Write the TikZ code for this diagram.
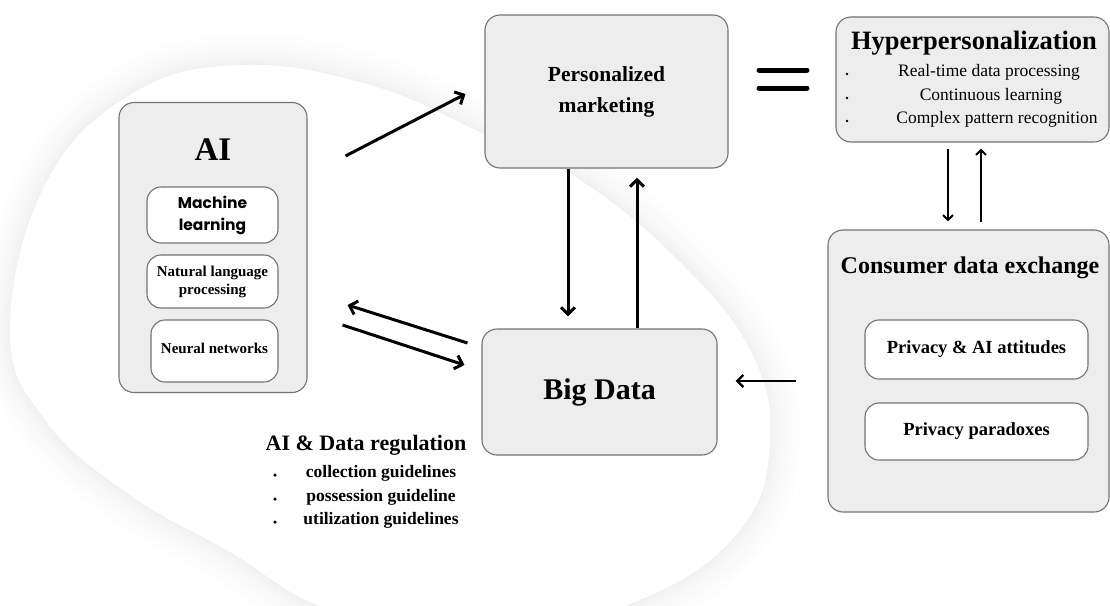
\documentclass[tikz,border=0pt]{standalone}
\usepackage{fontspec}
\setmainfont{Liberation Serif}
\newfontfamily\popfont{Poppins}
\usetikzlibrary{arrows.meta,calc}
\definecolor{boxfill}{HTML}{EDEDED}
\definecolor{boxline}{HTML}{737373}
\newcommand\myfs[2]{\fontsize{#1}{#2}\selectfont}
\begin{document}
\begin{tikzpicture}[x=1pt,y=-1pt,
  bigbox/.style={draw=boxline, fill=boxfill, rounded corners=15pt, line width=1.1pt, inner sep=0pt, align=center},
  smallbox/.style={draw=boxline, fill=white, rounded corners=14pt, line width=1.1pt, inner sep=0pt, align=center},
  txt/.style={inner sep=0pt, align=center},
  dot/.style={circle, fill=black, inner sep=0pt, minimum size=3.5pt},
  arr/.style={-{Straight Barb[length=7pt,width=14pt]}, line width=3pt},
  thinarr/.style={-{Straight Barb[length=5pt,width=10pt]}, line width=2pt},
]
\useasboundingbox (0,0) rectangle (1110,605);
\fill[white] (0,0) rectangle (1110,605);
% background blob with soft shadow
\begin{scope}
\clip (0,0) rectangle (1110,605);
\foreach \w/\c in {60/0.8,50/1.3,42/1.8,34/2.3,27/2.8,21/3.3,15/3.8,10/4.3,6/4.8,3/5.3} {
  \draw[line width=\w pt, black!\c] plot[smooth cycle, tension=0.7] coordinates {(10,330) (45,185) (130,95) (240,65) (370,85) (480,132) (580,180) (680,262) (750,350) (770,440) (740,530) (640,600) (480,640) (330,610) (230,552) (130,495) (45,420)};
}
\fill[white] plot[smooth cycle, tension=0.7] coordinates {(10,330) (45,185) (130,95) (240,65) (370,85) (480,132) (580,180) (680,262) (750,350) (770,440) (740,530) (640,600) (480,640) (330,610) (230,552) (130,495) (45,420)};
\end{scope}

% AI box
\node[bigbox, minimum width=188pt, minimum height=290pt] (ai) at (213,247.5) {};
\node[txt, font=\myfs{33}{36}\bfseries] (aititle) at (213,150) {AI};
\node[smallbox, minimum width=131pt, minimum height=56pt, font=\popfont\myfs{15.5}{22}\bfseries] (ml) at (212.5,215) {Machine\\learning};
\node[smallbox, minimum width=131pt, minimum height=53pt, font=\myfs{15}{18}\bfseries] (nlp) at (212.5,281.5) {Natural language\\processing};
\node[smallbox, minimum width=127pt, minimum height=62pt, font=\myfs{15}{18}\bfseries] (nn) at (214.5,351) {\raisebox{6pt}{Neural networks}};

% Personalized marketing
\node[bigbox, minimum width=243pt, minimum height=153pt, font=\myfs{21.5}{31}\bfseries] (pm) at (606.5,91.5) {Personalized\\marketing};

% Big Data
\node[bigbox, minimum width=235pt, minimum height=126pt, font=\myfs{30}{34}\bfseries] (bd) at (599.5,392) {Big Data};

% Hyperpersonalization
\node[bigbox, minimum width=273pt, minimum height=125pt] (hyp) at (972.5,79.5) {};
\node[txt, font=\myfs{26.5}{30}\bfseries] (hyptitle) at (974,43) {Hyperpersonalization};
\node[txt, font=\myfs{17.5}{20}] (h1) at (989,72) {Real-time data processing};
\node[txt, font=\myfs{17.5}{20}] (h2) at (991,96) {Continuous learning};
\node[txt, font=\myfs{17.5}{20}] (h3) at (997,119) {Complex pattern recognition};
\node[dot, minimum size=2.8pt] (hb1) at (847,74) {};
\node[dot, minimum size=2.8pt] (hb2) at (847,98) {};
\node[dot, minimum size=2.8pt] (hb3) at (847,121) {};

% equals sign
\draw[line width=5pt, line cap=round] (759,70) -- (807,70);
\draw[line width=5pt, line cap=round] (759,88) -- (807,88);

% Consumer data exchange
\node[bigbox, minimum width=281pt, minimum height=282pt] (cde) at (968.5,371) {};
\node[txt, font=\myfs{24}{28}\bfseries] (cdetitle) at (970,268) {Consumer data exchange};
\node[smallbox, minimum width=223pt, minimum height=59pt, font=\myfs{18.5}{22}\bfseries] (pai) at (976.5,349.5) {Privacy \& AI attitudes};
\node[smallbox, minimum width=223pt, minimum height=57pt, font=\myfs{18.5}{22}\bfseries] (pp) at (976.5,431.5) {Privacy paradoxes};

% AI & Data regulation
\node[txt, font=\myfs{22}{26}\bfseries] (regtitle) at (366,445) {AI \& Data regulation};
\node[txt, font=\myfs{17.5}{20}\bfseries] (r1) at (381,473) {collection guidelines};
\node[txt, font=\myfs{17.5}{20}\bfseries] (r2) at (381,497) {possession guideline};
\node[txt, font=\myfs{17.5}{20}\bfseries] (r3) at (381,520) {utilization guidelines};
\node[dot] (rb1) at (275,475) {};
\node[dot] (rb2) at (275,499) {};
\node[dot] (rb3) at (275,522) {};

% connectors
\draw[arr] ($(ai.north east)+(38,54)$) -- ($(pm.west)+(-19,2.5)$);
\draw[arr] ($(bd.west)+(-14,-49)$) -- ($(ai.east)+(40,57.5)$);
\draw[arr] ($(ai.east)+(35,77.5)$) -- ($(bd.west)+(-17,-27)$);
\draw[arr] ($(pm.south)+(-38.5,0)$) -- ($(bd.north)+(-31.5,-12)$);
\draw[arr] ($(bd.north)+(37.5,0)$) -- ($(pm.south)+(30.5,9)$);
\draw[-{Straight Barb[length=6pt,width=12pt]}, line width=2.4pt] ($(cde.west)+(-31,10)$) -- ($(bd.east)+(18,-11)$);
\draw[thinarr] ($(hyp.south)+(-24.5,6)$) -- ($(cde.north)+(-20.5,-8)$);
\draw[thinarr] ($(cde.north)+(12.5,-7)$) -- ($(hyp.south)+(8.5,6)$);
\end{tikzpicture}
\end{document}
